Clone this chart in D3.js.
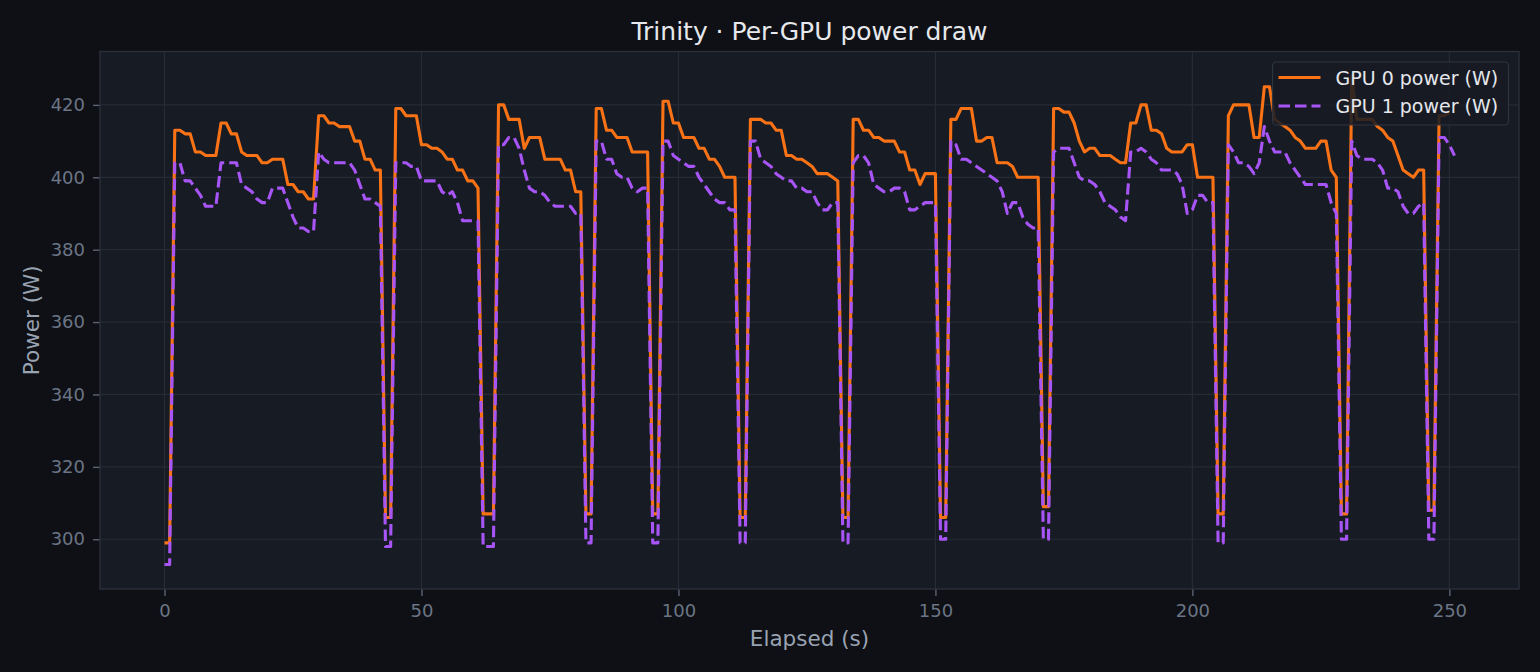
<!DOCTYPE html>
<html>
<head>
<meta charset="utf-8">
<title>Trinity · Per-GPU power draw</title>
<script src="https://cdn.jsdelivr.net/npm/d3@7"></script>
<style>
    html, body { margin: 0; padding: 0; background: #0e1015; }
    .chart-container svg { display: block; font-family: "DejaVu Sans", sans-serif; }
</style>
</head>
<body>
<div class="chart-container"></div>
<script>
const chartTitle = "Trinity · Per-GPU power draw";
const xLabel = "Elapsed (s)";
const yLabel = "Power (W)";
const xTicks = [0, 50, 100, 150, 200, 250];
const yTicks = [300, 320, 340, 360, 380, 400, 420];
const seriesNames = ["GPU 0 power (W)", "GPU 1 power (W)"];

// one sample per second, starting at 0 s
const gpu0Power = [
    299, 299, 413, 413, 412, 412, 407, 407, 406, 406,
    406, 415, 415, 412, 412, 407, 406, 406, 406, 404,
    404, 405, 405, 405, 398, 398, 396, 396, 394, 394,
    417, 417, 415, 415, 414, 414, 414, 410, 410, 405,
    405, 402, 402, 306, 306, 419, 419, 417, 417, 417,
    409, 409, 408, 408, 407, 405, 405, 402, 402, 399,
    399, 397, 307, 307, 307, 420, 420, 416, 416, 416,
    408, 411, 411, 411, 405, 405, 405, 405, 402, 402,
    396, 396, 307, 307, 419, 419, 413, 413, 411, 411,
    411, 407, 407, 407, 407, 307, 307, 421, 421, 415,
    415, 411, 411, 411, 408, 408, 405, 405, 403, 400,
    400, 400, 306, 306, 416, 416, 416, 415, 415, 413,
    413, 406, 406, 405, 405, 404, 403, 401, 401, 401,
    400, 399, 306, 306, 416, 416, 413, 413, 411, 411,
    410, 410, 410, 407, 407, 402, 402, 398, 401, 401,
    401, 306, 306, 416, 416, 419, 419, 419, 410, 410,
    411, 411, 404, 404, 404, 403, 400, 400, 400, 400,
    400, 309, 309, 419, 419, 418, 418, 415, 410, 407,
    408, 408, 406, 406, 406, 405, 404, 404, 415, 415,
    420, 420, 413, 413, 412, 408, 407, 407, 407, 409,
    409, 400, 400, 400, 400, 307, 307, 417, 420, 420,
    420, 420, 411, 411, 425, 425, 416, 415, 414, 413,
    411, 410, 408, 408, 408, 410, 410, 402, 400, 307,
    307, 428, 416, 416, 416, 416, 414, 413, 411, 410,
    406, 402, 401, 400, 402, 402, 308, 308, 417, 417,
    418
];

const gpu1Power = [
    293, 293, 404, 404, 399, 399, 397, 395, 392, 392,
    392, 404, 404, 404, 404, 398, 397, 396, 394, 393,
    393, 397, 397, 397, 393, 389, 386, 386, 385, 385,
    407, 405, 404, 404, 404, 404, 404, 402, 398, 394,
    394, 393, 392, 298, 298, 404, 404, 404, 403, 403,
    399, 399, 399, 399, 396, 395, 396, 393, 388, 388,
    388, 388, 298, 298, 298, 409, 409, 411, 411, 408,
    402, 397, 396, 396, 395, 393, 392, 392, 392, 392,
    390, 390, 299, 299, 410, 410, 405, 405, 401, 400,
    400, 397, 396, 397, 397, 299, 299, 410, 410, 406,
    405, 404, 403, 403, 400, 398, 396, 394, 393, 393,
    391, 391, 299, 299, 410, 410, 405, 404, 403, 401,
    400, 399, 399, 397, 397, 396, 396, 393, 391, 391,
    393, 393, 299, 299, 404, 406, 406, 404, 398, 397,
    396, 396, 397, 397, 396, 391, 391, 392, 393, 393,
    393, 300, 300, 410, 409, 405, 405, 404, 403, 402,
    401, 400, 399, 396, 390, 393, 393, 389, 387, 386,
    386, 300, 300, 407, 408, 408, 408, 404, 400, 399,
    399, 398, 396, 393, 392, 391, 389, 388, 407, 407,
    408, 407, 405, 404, 402, 402, 402, 401, 398, 390,
    391, 395, 395, 393, 393, 299, 299, 409, 407, 404,
    404, 403, 401, 404, 414, 410, 407, 407, 407, 404,
    402, 400, 398, 398, 398, 398, 398, 393, 390, 300,
    300, 410, 406, 405, 405, 405, 404, 402, 397, 397,
    396, 392, 390, 390, 392, 393, 300, 300, 411, 411,
    409, 406
];

class PowerChart {
    // Draws both GPU power traces in a dark matplotlib-like frame
    constructor(config) {
        this.config = config;
        this.series = [
            { name: seriesNames[0], values: gpu0Power, color: "#f97316", dash: null },
            { name: seriesNames[1], values: gpu1Power, color: "#a855f7", dash: "11.5,5" }
        ];
        this.initializeSVG();
        this.createScales();
    }

    initializeSVG() {
        const { width, height } = this.config;
        this.svg = d3.select(".chart-container")
            .append("svg")
            .attr("width", width)
            .attr("height", height)
            .attr("viewBox", `0 0 ${width} ${height}`);

        this.svg.append("rect")
            .attr("width", width)
            .attr("height", height)
            .attr("fill", "#0e1015");
    }

    // Matplotlib style 5% padding around the data extent
    createScales() {
        const { margin, width, height } = this.config;
        const maxT = d3.max(this.series, s => s.values.length - 1);
        const allValues = this.series.flatMap(s => s.values);
        const [ lo, hi ] = d3.extent(allValues);
        const padX = maxT * 0.05;
        const padY = (hi - lo) * 0.05;

        this.x = d3.scaleLinear()
            .domain([ -padX, maxT + padX ])
            .range([ margin.left, width - margin.right ]);

        this.y = d3.scaleLinear()
            .domain([ lo - padY, hi + padY ])
            .range([ height - margin.bottom, margin.top ]);

        // plot box edges
        this.box = {
            left: margin.left,
            right: width - margin.right,
            top: margin.top,
            bottom: height - margin.bottom
        };
    }

    render() {
        this.renderFrame();
        this.renderAxes();
        this.renderLines();
        this.renderLegend();
        this.renderLabels();
    }

    renderFrame() {
        const b = this.box;

        this.svg.append("rect")
            .attr("x", b.left).attr("y", b.top)
            .attr("width", b.right - b.left).attr("height", b.bottom - b.top)
            .attr("fill", "#171b23");

        const grid = this.svg.append("g").attr("class", "grid");

        grid.selectAll(".vgrid")
            .data(xTicks)
            .enter()
            .append("line")
            .attr("x1", d => this.x(d)).attr("x2", d => this.x(d))
            .attr("y1", b.top).attr("y2", b.bottom)
            .attr("stroke", "#262b36")
            .attr("stroke-width", 1.2);

        grid.selectAll(".hgrid")
            .data(yTicks)
            .enter()
            .append("line")
            .attr("x1", b.left).attr("x2", b.right)
            .attr("y1", d => this.y(d)).attr("y2", d => this.y(d))
            .attr("stroke", "#262b36")
            .attr("stroke-width", 1.2);
    }

    renderAxes() {
        const b = this.box;

        const xAxis = d3.axisBottom(this.x)
            .tickValues(xTicks)
            .tickSize(7)
            .tickPadding(8)
            .tickFormat(d3.format("d"));

        const yAxis = d3.axisLeft(this.y)
            .tickValues(yTicks)
            .tickSize(7)
            .tickPadding(8)
            .tickFormat(d3.format("d"));

        const gx = this.svg.append("g")
            .attr("transform", `translate(0,${b.bottom})`)
            .call(xAxis);

        const gy = this.svg.append("g")
            .attr("transform", `translate(${b.left},0)`)
            .call(yAxis);

        [ gx, gy ].forEach(g => {
            g.select(".domain").remove();
            g.selectAll(".tick line")
                .attr("stroke", "#5b6373")
                .attr("stroke-width", 1.4);
            g.selectAll(".tick text")
                .attr("fill", "#6b7585")
                .attr("font-size", "18px")
                .attr("font-family", "DejaVu Sans, sans-serif");
        });
    }

    renderLines() {
        const b = this.box;
        const line = d3.line()
            .x((d, i) => this.x(i))
            .y(d => this.y(d));

        this.svg.append("g")
            .attr("class", "lines")
            .selectAll("path")
            .data(this.series)
            .enter()
            .append("path")
            .attr("d", d => line(d.values))
            .attr("fill", "none")
            .attr("stroke", d => d.color)
            .attr("stroke-width", 3.1)
            .attr("stroke-linejoin", "round")
            .attr("stroke-dasharray", d => d.dash);

        // spines drawn over the data like matplotlib does
        this.svg.append("rect")
            .attr("x", b.left).attr("y", b.top)
            .attr("width", b.right - b.left).attr("height", b.bottom - b.top)
            .attr("fill", "none")
            .attr("stroke", "#2b303b")
            .attr("stroke-width", 1.4);
    }

    renderLegend() {
        const lg = this.svg.append("g")
            .attr("class", "legend")
            .attr("transform", "translate(1272.5,62)");

        lg.append("rect")
            .attr("width", 236)
            .attr("height", 63)
            .attr("rx", 4)
            .attr("fill", "#171b23")
            .attr("fill-opacity", 0.86)
            .attr("stroke", "#2e3440")
            .attr("stroke-width", 1.2);

        const rows = lg.selectAll(".row")
            .data(this.series)
            .enter()
            .append("g")
            .attr("transform", (d, i) => `translate(0,${15.5 + i * 28.5})`);

        rows.append("line")
            .attr("x1", 6).attr("x2", 48)
            .attr("stroke", d => d.color)
            .attr("stroke-width", 3.1)
            .attr("stroke-dasharray", d => d.dash);

        rows.append("text")
            .attr("x", 63)
            .attr("y", 7)
            .attr("fill", "#e5e7eb")
            .attr("font-size", "19px")
            .text(d => d.name);
    }

    renderLabels() {
        const { height } = this.config;
        const b = this.box;
        const midX = (b.left + b.right) / 2;

        this.svg.append("text")
            .attr("x", midX)
            .attr("y", 40)
            .attr("text-anchor", "middle")
            .attr("fill", "#e6e8ec")
            .attr("font-size", "25px")
            .text(chartTitle);

        this.svg.append("text")
            .attr("x", midX)
            .attr("y", height - 26)
            .attr("text-anchor", "middle")
            .attr("fill", "#99a3b2")
            .attr("font-size", "21.5px")
            .text(xLabel);

        this.svg.append("text")
            .attr("transform", `translate(39,${(b.top + b.bottom) / 2}) rotate(-90)`)
            .attr("text-anchor", "middle")
            .attr("fill", "#99a3b2")
            .attr("font-size", "21.5px")
            .text(yLabel);
    }
}

const chart = new PowerChart({
    width: 1540,
    height: 672,
    margin: { top: 51.5, right: 21, bottom: 83, left: 100 }
});
chart.render();
</script>
</body>
</html>
